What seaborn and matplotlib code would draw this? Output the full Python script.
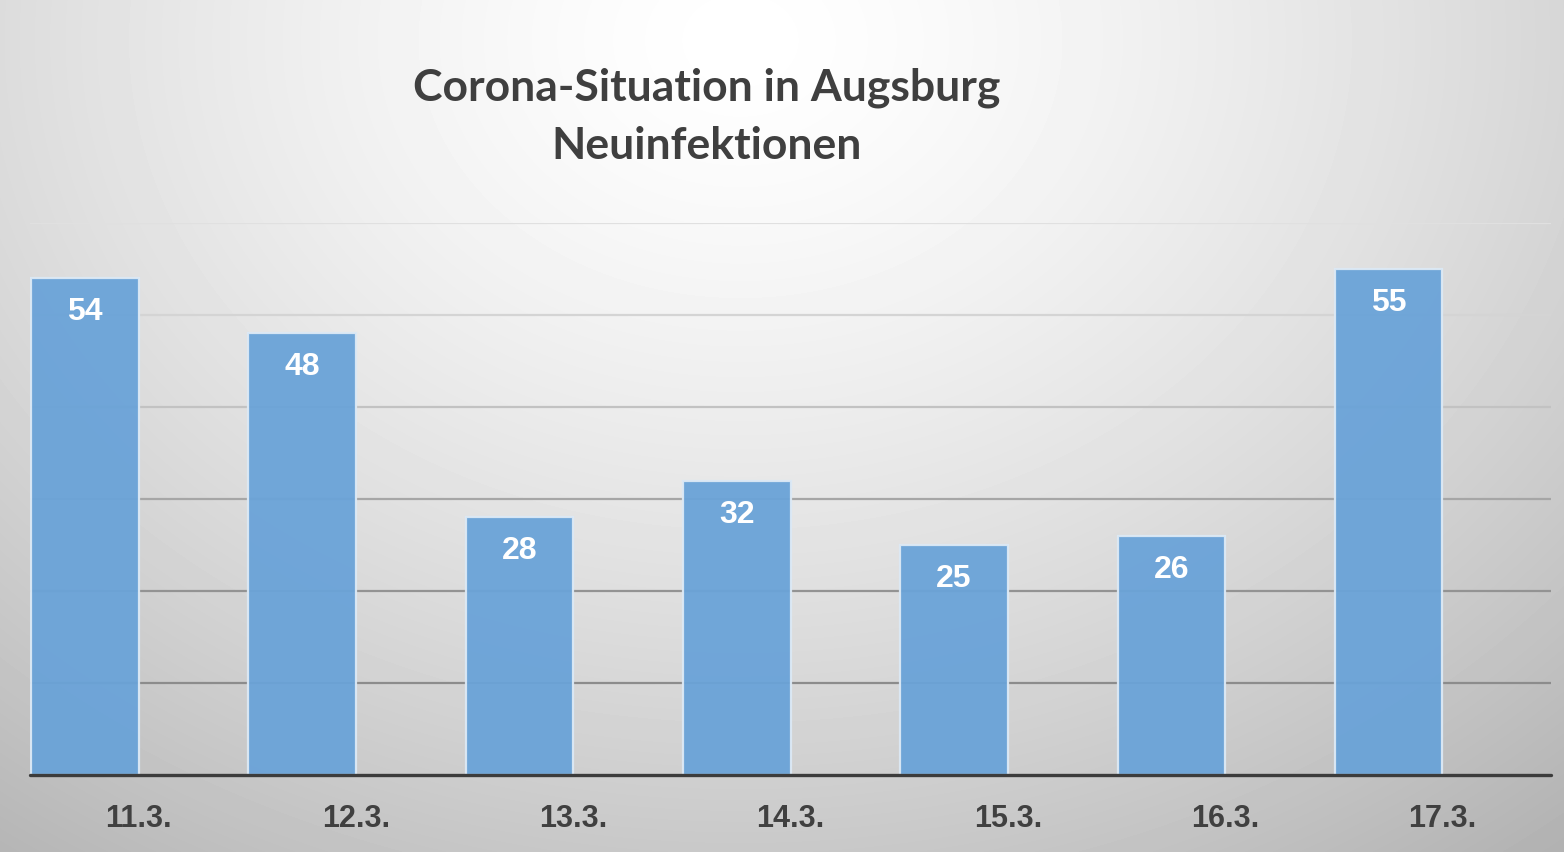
import numpy as np
import pandas as pd
import matplotlib
matplotlib.use('Agg')
import matplotlib.pyplot as plt
import seaborn as sns

# data
dates = ['11.3.', '12.3.', '13.3.', '14.3.', '15.3.', '16.3.', '17.3.']
neuinfektionen = [54, 48, 28, 32, 25, 26, 55]
title_lines = ['Corona-Situation in Augsburg', 'Neuinfektionen']
y_ticks = [10, 20, 30, 40, 50, 60]

sns.set_style('white')
plt.rcParams['font.family'] = ['Liberation Sans', 'DejaVu Sans']

W, H = 1564, 852
fig = plt.figure(figsize=(W / 100, H / 100), dpi=100)

# radial gradient background
bg = fig.add_axes([0, 0, 1, 1], zorder=-10)
yy, xx = np.mgrid[0:H, 0:W]
r = np.sqrt((xx - 740) ** 2 + ((yy - 40) / 0.8) ** 2) / 1100
shade = 1.0 - 0.24 * np.clip(r, 0, 1.2) ** 1.4
bg.imshow(shade, cmap='gray', vmin=0, vmax=1, aspect='auto', interpolation='bilinear')
bg.set_axis_off()

ax = fig.add_axes([30 / W, 1 - 775 / H, (1551 - 30) / W, (775 - 223) / H])
ax.patch.set_alpha(0)

# clustered bar layout with an empty second series (bars sit left of the tick)
df = pd.DataFrame({
    'Datum': dates * 2,
    'Wert': neuinfektionen + [np.nan] * len(dates),
    'Serie': ['Neuinfektionen'] * len(dates) + ['leer'] * len(dates),
})
sns.barplot(data=df, x='Datum', y='Wert', hue='Serie',
            hue_order=['Neuinfektionen', 'leer'], order=dates,
            palette=['#6aa3d8', '#6aa3d8'], saturation=1, width=0.99, gap=0,
            edgecolor='#dce9f5', linewidth=1.6, alpha=0.95,
            legend=False, ax=ax, zorder=3)

ax.set_xlim(-0.5, 6.5)
ax.set_ylim(0, 60)

# gridlines get darker towards the bottom
grid_cols = ['#8c8c8c', '#939393', '#a6a6a6', '#c2c2c2', '#d4d4d4', '#e0e0e0']
for val, col in zip(y_ticks, grid_cols):
    ax.axhline(val, color=col, linewidth=1.6, zorder=1)
ax.axhline(0, color='#3c3c3c', linewidth=2.4, zorder=5, clip_on=False)

for spine in ax.spines.values():
    spine.set_visible(False)
ax.set_yticks([])
ax.set_xlabel('')
ax.set_ylabel('')
ax.tick_params(axis='x', length=0, pad=21)
ax.set_xticks(range(len(dates)))
ax.set_xticklabels(dates, fontsize=22, fontweight='bold', color='#404040')

# value labels inside bars
bars = [p for p in ax.patches if np.isfinite(p.get_height()) and p.get_height() > 0]
for p, v in zip(bars, neuinfektionen):
    ax.annotate(str(v), (p.get_x() + p.get_width() / 2, v),
                xytext=(0, -34), textcoords='offset pixels',
                ha='center', va='center', fontsize=23, fontweight='bold',
                color='white', zorder=6)

for line, ypix in zip(title_lines, [88, 146]):
    fig.text(707 / W, 1 - ypix / H, line, ha='center', va='center',
             fontsize=32, fontweight='bold', color='#3f3f3f',
             family=['Lato', 'DejaVu Sans'])

fig.savefig('out.png', dpi=100)
